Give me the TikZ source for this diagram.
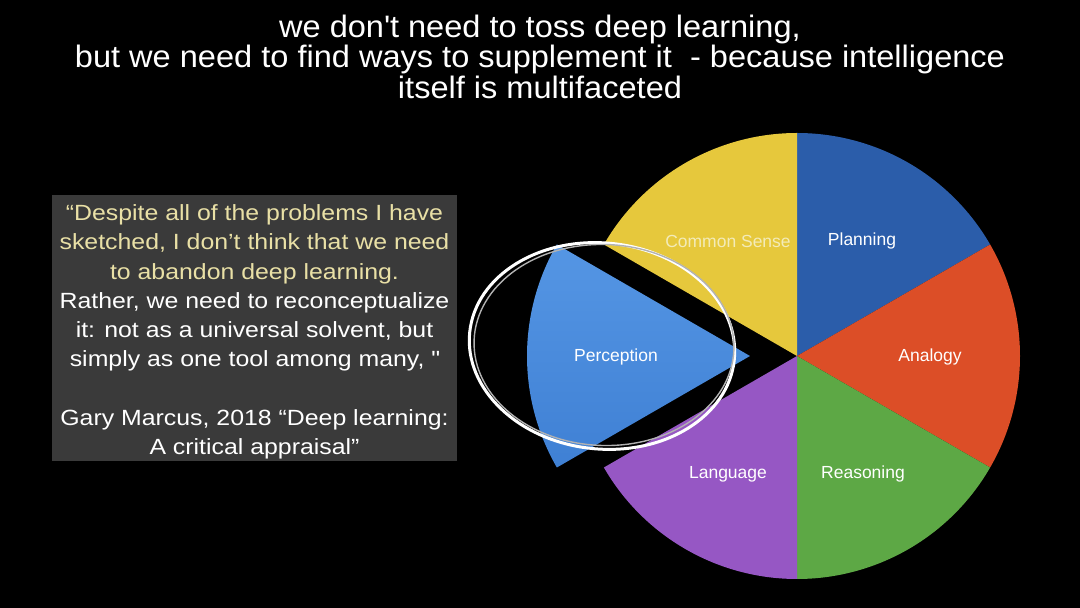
\documentclass[tikz,border=0pt]{standalone}
\usepackage{fontspec}
\setmainfont{Liberation Sans}
\newfontfamily\titlefont[FakeStretch=1.05]{Liberation Sans}
\newfontfamily\quotefont[FakeStretch=1.13]{Liberation Sans}
\usetikzlibrary{positioning}
\definecolor{planblue}{HTML}{2B5DAA}
\definecolor{analred}{HTML}{DC4E27}
\definecolor{reasgreen}{HTML}{5DA845}
\definecolor{langpurple}{HTML}{9657C4}
\definecolor{perclight}{HTML}{5596E4}
\definecolor{percdark}{HTML}{3F80D4}
\definecolor{senseyellow}{HTML}{E6C83C}
\definecolor{boxgray}{HTML}{3A3A3A}
\definecolor{quoteyellow}{HTML}{E9E0A6}
\definecolor{senselabel}{HTML}{F3EBB8}

\begin{document}
\begin{tikzpicture}[x=1pt, y=1pt,
  ttl/.style={text=white, font=\titlefont\fontsize{31}{33}\selectfont, anchor=base},
  lbl/.style={text=white, font=\fontsize{17.5}{20}\selectfont},
  sketch/.style={draw=white, line width=3pt}
]
\fill[black] (0,0) rectangle (1080,608);
\useasboundingbox (0,0) rectangle (1080,608);

% title
\node[ttl] (t1) at (540,570.5) {we don\textquotesingle t need to toss deep learning,};
\node[ttl] (t2) at (540,540) {but we need to find ways to supplement it \ - because intelligence};
\node[ttl] (t3) at (540,509) {itself is multifaceted};

% quote
\node[fill=boxgray, minimum width=405pt, minimum height=266pt, inner sep=0pt] (box) at (254.5,280) {};
\node[text=white, align=center, inner sep=0pt,
      font=\quotefont\fontsize{22}{29.25}\selectfont] (quote) at (254.5,276) {
  \textcolor{quoteyellow}{“Despite all of the problems I have}\\
  \textcolor{quoteyellow}{sketched, I don’t think that we need}\\
  \textcolor{quoteyellow}{to abandon deep learning.}\\
  Rather, we need to reconceptualize\\
  it: not as a universal solvent, but\\
  simply as one tool among many, \textquotedbl\\[29.25pt]
  Gary Marcus, 2018 “Deep learning:\\
  A critical appraisal”};

% pie
\coordinate (c) at (797,252);
\coordinate (p) at (750,252);
\fill[planblue] (c) -- ++(90:223) arc[start angle=90, end angle=30, radius=223] -- cycle;
\fill[analred] (c) -- ++(30:223) arc[start angle=30, end angle=-30, radius=223] -- cycle;
\fill[reasgreen] (c) -- ++(-30:223) arc[start angle=-30, end angle=-90, radius=223] -- cycle;
\fill[langpurple] (c) -- ++(-90:223) arc[start angle=-90, end angle=-150, radius=223] -- cycle;
\fill[senseyellow] (c) -- ++(150:223) arc[start angle=150, end angle=90, radius=223] -- cycle;
\shade[top color=perclight, bottom color=percdark]
  (p) -- ++(150:223) arc[start angle=150, end angle=210, radius=223] -- cycle;

\node[lbl, text=senselabel] (sense) at (728,367) {Common Sense};
\node[lbl] (plan) at (862,367) {Planning};
\node[lbl] (anal) at (930,251) {Analogy};
\node[lbl] (reas) at (863,134) {Reasoning};
\node[lbl] (lang) at (728,134) {Language};
\node[lbl] (perc) at (616,251) {Perception};

% circled
\draw[sketch, rotate around={-6:(602,262)}] (602,262) ellipse[x radius=133, y radius=103];
\draw[draw=white!70!black, line width=1.4pt, rotate around={-2:(604,263)}] (604,263) ellipse[x radius=130, y radius=100.5];
\end{tikzpicture}
\end{document}
